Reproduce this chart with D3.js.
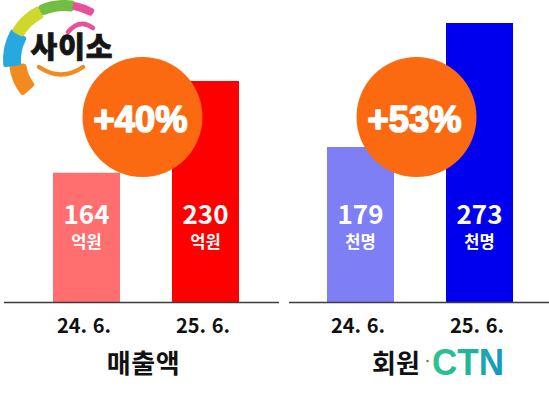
<!DOCTYPE html>
<html lang="ko">
<head>
<meta charset="utf-8">
<title>사이소 매출액 · 회원</title>
<script src="https://cdn.jsdelivr.net/npm/d3@7"></script>
<style>
  html, body { margin: 0; padding: 0; background: #fff; }
  svg { display: block; }
</style>
</head>
<body>
<svg id="chart" width="549" height="396" viewBox="0 0 549 396"></svg>
<script>
/* ---- DATA --------------------------------------------------------------- */
var periods       = ['24. 6.', '25. 6.'];
var salesValues   = [164, 230];   // 억원
var memberValues  = [179, 273];   // 천명
var salesUnit     = '억원';
var memberUnit    = '천명';
var salesGrowth   = '+40%';
var memberGrowth  = '+53%';
var panelTitles   = ['매출액', '회원'];
var logoText      = '사이소';
var watermarkText = 'CTN';

(function () {
  'use strict';

  var KR  = '"Noto Sans CJK KR", "Noto Sans", sans-serif';
  var LAT = '"Liberation Sans", Arial, sans-serif';

  /* ---- CONFIG: layout + colours. The original uses a truncated y axis,
         so each panel gets its own domain floor. ------------------------- */
  var CONFIG = {
    baseline: 302,
    circleR: 60,
    circleY: 117,
    orange: '#fb6a10',
    panels: [
      { values: salesValues, unit: salesUnit, growth: salesGrowth,
        xRange: [53, 239], yDomain: [71, 230], yTop: 81, line: [4, 279],
        colors: ['#ff6f6f', '#fe0000'] },
      { values: memberValues, unit: memberUnit, growth: memberGrowth,
        xRange: [327, 513], yDomain: [61.5, 273], yTop: 23, line: [289, 549],
        colors: ['#7f7ff5', '#0000ee'] }
    ]
  };

  var svg = d3.select('#chart');

  var defs = svg.append('defs');
  var grad = defs.append('linearGradient').attr('id', 'ctn-grad')
    .attr('x1', '0%').attr('x2', '100%').attr('y1', '0%').attr('y2', '0%');
  grad.append('stop').attr('offset', '0%').attr('stop-color', '#2fc48a');
  grad.append('stop').attr('offset', '55%').attr('stop-color', '#1fb3a0');
  grad.append('stop').attr('offset', '100%').attr('stop-color', '#1694c6');

  /* ---- one bar panel ---------------------------------------------------- */
  function drawPanel(p, i) {
    var g = svg.append('g').attr('class', 'panel-' + i);

    var x = d3.scaleBand().domain(periods).range(p.xRange)
      .paddingInner(0.437).paddingOuter(0);
    var y = d3.scaleLinear().domain(p.yDomain)
      .range([CONFIG.baseline, p.yTop]);

    var rows = periods.map(function (d, k) { return { period: d, value: p.values[k], k: k }; });

    g.selectAll('rect.bar').data(rows).enter().append('rect')
      .attr('class', 'bar')
      .attr('x', function (d) { return x(d.period); })
      .attr('y', function (d) { return y(d.value); })
      .attr('width', x.bandwidth())
      .attr('height', function (d) { return CONFIG.baseline - y(d.value); })
      .attr('fill', function (d) { return p.colors[d.k]; });

    // baseline
    g.append('line')
      .attr('x1', p.line[0]).attr('x2', p.line[1])
      .attr('y1', CONFIG.baseline + 0.5).attr('y2', CONFIG.baseline + 0.5)
      .attr('stroke', '#3c3c3c').attr('stroke-width', 1.5);

    // value + unit labels (fixed height inside the bar)
    var cx = function (d) { return x(d.period) + x.bandwidth() / 2; };
    g.selectAll('text.val').data(rows).enter().append('text')
      .attr('class', 'val')
      .attr('x', cx).attr('y', 224)
      .attr('text-anchor', 'middle')
      .attr('font-family', KR).attr('font-weight', 700).attr('font-size', 26)
      .attr('fill', '#fff')
      .text(function (d) { return d.value; });
    g.selectAll('text.unit').data(rows).enter().append('text')
      .attr('class', 'unit')
      .attr('x', cx).attr('y', 248)
      .attr('text-anchor', 'middle')
      .attr('font-family', KR).attr('font-weight', 700).attr('font-size', 16.5)
      .attr('fill', '#fff')
      .text(p.unit);

    // period axis
    var ax = g.append('g')
      .attr('transform', 'translate(0,' + CONFIG.baseline + ')')
      .call(d3.axisBottom(x).tickSize(0));
    ax.select('.domain').remove();
    ax.selectAll('text')
      .attr('y', 31).attr('dy', 0).attr('dx', -2.5)
      .attr('font-family', KR).attr('font-weight', 700).attr('font-size', 20)
      .attr('fill', '#111');

    // growth bubble, on top of the bars
    var mid = (cx(rows[0]) + cx(rows[1])) / 2 - 3.5;
    g.append('circle')
      .attr('cx', mid).attr('cy', CONFIG.circleY).attr('r', CONFIG.circleR)
      .attr('fill', CONFIG.orange);
    g.append('text')
      .attr('x', mid - 2).attr('y', CONFIG.circleY + 15)
      .attr('text-anchor', 'middle')
      .attr('font-family', LAT).attr('font-weight', 700).attr('font-size', 37)
      .attr('fill', '#fff').attr('stroke', '#fff').attr('stroke-width', 1.6)
      .attr('stroke-linejoin', 'round')
      .attr('textLength', 94).attr('lengthAdjust', 'spacingAndGlyphs')
      .text(p.growth);

    return mid;
  }

  var mids = CONFIG.panels.map(drawPanel);

  /* ---- panel titles ----------------------------------------------------- */
  svg.append('text')
    .attr('x', mids[0] + 1).attr('y', 373)
    .attr('text-anchor', 'middle')
    .attr('font-family', KR).attr('font-weight', 700).attr('font-size', 26)
    .attr('letter-spacing', 0.5)
    .attr('fill', '#111')
    .text(panelTitles[0]);

  svg.append('text')
    .attr('x', 372).attr('y', 373)
    .attr('font-family', KR).attr('font-weight', 700).attr('font-size', 26)
    .attr('fill', '#111')
    .text(panelTitles[1]);
  svg.append('circle').attr('cx', 427.5).attr('cy', 361).attr('r', 1.3).attr('fill', '#777');

  // CTN watermark
  svg.append('text')
    .attr('x', 432).attr('y', 375)
    .attr('font-family', LAT).attr('font-weight', 700).attr('font-size', 36)
    .attr('textLength', 72).attr('lengthAdjust', 'spacingAndGlyphs')
    .attr('fill', 'url(#ctn-grad)')
    .text(watermarkText);
  svg.append('path')
    .attr('d', 'M440,361 Q445,357 450,361')
    .attr('fill', 'none').attr('stroke', '#fff').attr('stroke-width', 2)
    .attr('stroke-linecap', 'round');

  /* ---- 사이소 logo, top left ------------------------------------------- */
  var logo = svg.append('g').attr('transform', 'translate(64,60)');
  var rad = Math.PI / 180;
  var segs = [
    { a0: -131, a1: -95, ri: 38, ro: 55, c: '#f28a1e' },
    { a0: -97,  a1: -59, ri: 43, ro: 61, c: '#27a8df' },
    { a0: -61,  a1: -25, ri: 47, ro: 60, c: '#cfd62c' },
    { a0: -26,  a1: 11,  ri: 49, ro: 60, c: '#74bd44' },
    { a0: 9,    a1: 32,  ri: 51, ro: 59, c: '#e8509c' }
  ];
  var arc = d3.arc().cornerRadius(3);
  logo.selectAll('path.seg').data(segs).enter().append('path')
    .attr('class', 'seg')
    .attr('d', function (s) {
      return arc({ innerRadius: s.ri, outerRadius: s.ro, startAngle: s.a0 * rad, endAngle: s.a1 * rad });
    })
    .attr('fill', function (s) { return s.c; });

  svg.append('path')
    .attr('d', 'M68,32 Q80,18 93,28')
    .attr('fill', 'none').attr('stroke', '#e8509c').attr('stroke-width', 4.5)
    .attr('stroke-linecap', 'round');
  svg.append('path')
    .attr('d', 'M39,67 Q61,82 83,67')
    .attr('fill', 'none').attr('stroke', '#f28a1e').attr('stroke-width', 4.5)
    .attr('stroke-linecap', 'round');
  svg.append('text')
    .attr('x', 72).attr('y', 58)
    .attr('text-anchor', 'middle')
    .attr('font-family', KR).attr('font-weight', 900).attr('font-size', 29)
    .attr('letter-spacing', 1)
    .attr('fill', '#151515').attr('stroke', '#151515').attr('stroke-width', 0.8)
    .text(logoText);
})();
</script>
</body>
</html>
